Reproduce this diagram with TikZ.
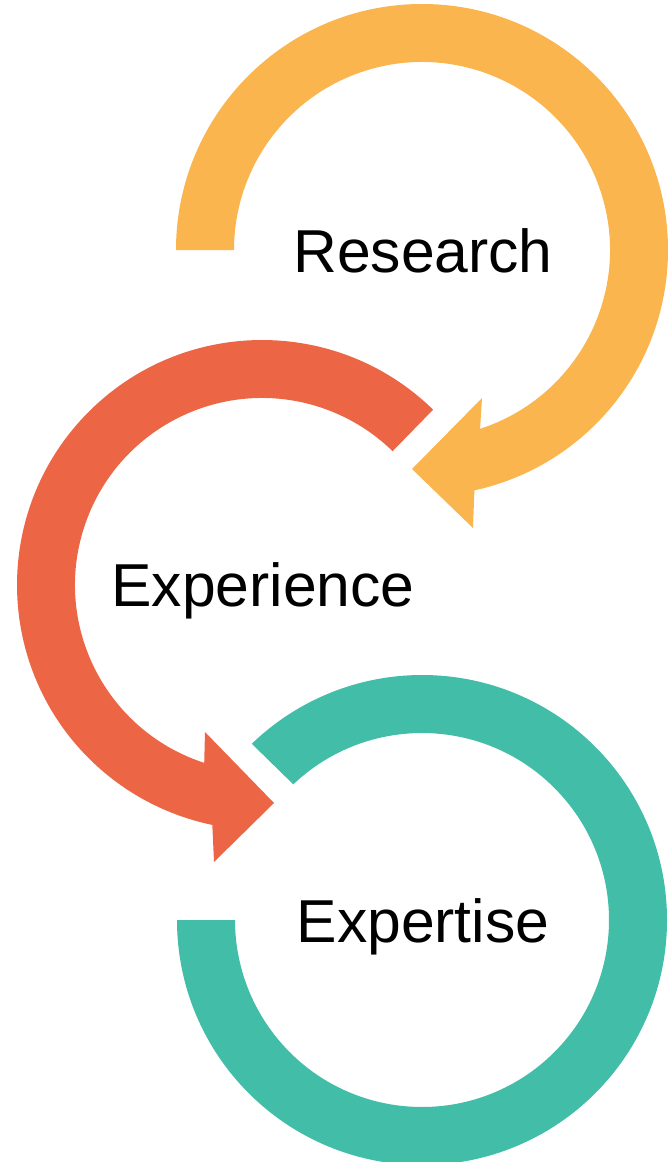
\documentclass[tikz,border=0pt]{standalone}
\usepackage{fontspec}
\setmainfont{Liberation Sans}
\usepackage{tikz}
\definecolor{researchorange}{RGB}{251,181,79}
\definecolor{experiencered}{RGB}{236,101,68}
\definecolor{expertiseteal}{RGB}{65,189,168}

\begin{document}
\begin{tikzpicture}[x=0.02cm, y=0.02cm,
    cycletext/.style={anchor=base, inner sep=0pt, font=\fontsize{34.5}{40}\selectfont}]
              \useasboundingbox (0,0) rectangle (667,-1162);
              \coordinate (research) at (422,-250);
              \coordinate (experience) at (262,-585);
              \coordinate (expertise) at (422,-920);
              \fill[researchorange] ([shift={(research)}]180:246) arc [radius=246, start angle=180, end angle=-77.7]
                  -- (473,-528) -- (412,-469) -- (482,-398)
                  -- ([shift={(research)}]-72:188) arc [radius=188, start angle=-72, end angle=180] -- cycle;
              \fill[experiencered] ([shift={(experience)}]45.7:245) arc [radius=245, start angle=45.7, end angle=258.3]
                  -- (214,-862) -- (274,-803) -- (205,-732)
                  -- ([shift={(experience)}]252:187) arc [radius=187, start angle=252, end angle=45.7] -- cycle;
              \fill[expertiseteal] ([shift={(expertise)}]180:245) arc [radius=245, start angle=180, end angle=494]
                  -- ([shift={(expertise)}]493.5:187) arc [radius=187, start angle=493.5, end angle=180] -- cycle;
              \node[cycletext] (researchtext) at (423,-272) {Research};
              \node[cycletext] (experiencetext) at (263,-606) {Experience};
              \node[cycletext] (expertisetext) at (423,-942) {Expertise};
\end{tikzpicture}
\end{document}
